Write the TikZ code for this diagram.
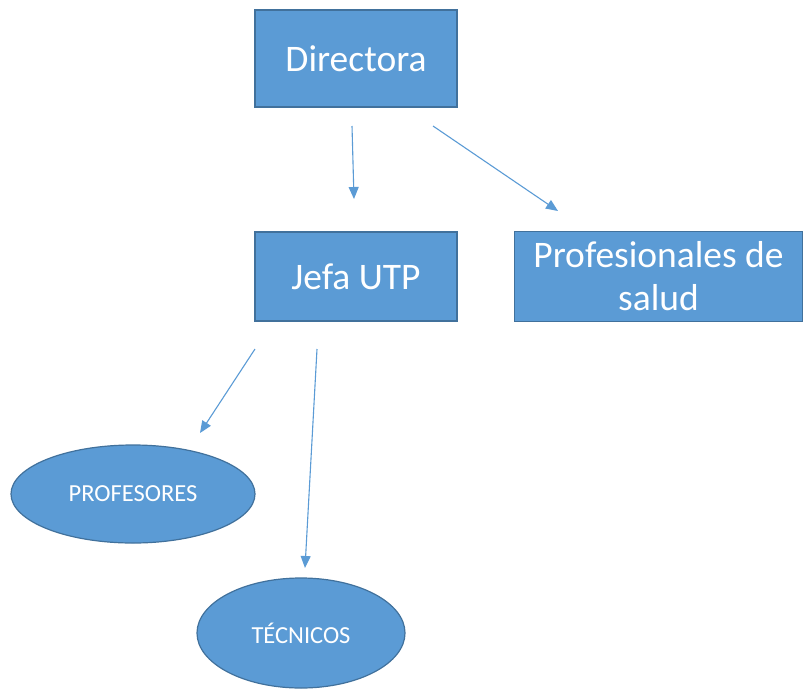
\documentclass[tikz,border=0pt]{standalone}
\usepackage{fontspec}
\setmainfont{Carlito}
\usetikzlibrary{arrows.meta,shapes.geometric}
\definecolor{boxfill}{HTML}{5B9BD5}
\definecolor{boxline}{HTML}{41719C}
\tikzset{
  orgbox/.style={draw=boxline, fill=boxfill, line width=1.5pt, text=white, inner sep=0pt, align=center,
    font=\fontsize{37.5}{43}\selectfont},
  orgell/.style={ellipse, draw=boxline, fill=boxfill, line width=1.2pt, text=white, inner sep=0pt,
    font=\fontsize{24.5}{28}\selectfont},
  link/.style={draw=boxfill, line width=1.1pt, -{Triangle[length=12pt,width=10pt]}}
}
\begin{document}
\begin{tikzpicture}[x=1pt,y=-1pt]
\useasboundingbox (0,0) rectangle (808,688);
\node[orgbox, minimum width=202pt, minimum height=97pt] (dir) at (356,58.5) {Directora};
\node[orgbox, minimum width=202pt, minimum height=89pt] (jefa) at (356,276.5) {Jefa UTP};
\node[orgbox, minimum width=288pt, minimum height=90pt] (prof) at (658.5,276.5) {Profesionales de\\salud};
\node[orgell, minimum width=244pt, minimum height=98pt] (profe) at (133,494) {PROFESORES};
\node[orgell, minimum width=208pt, minimum height=110pt] (tec) at (301,633) {TÉCNICOS};
\coordinate (a1s) at (352,126); \coordinate (a1e) at (354,199);
\coordinate (a2s) at (433,126); \coordinate (a2e) at (558,211);
\coordinate (a3s) at (255,349); \coordinate (a3e) at (200,433);
\coordinate (a4s) at (317,349); \coordinate (a4e) at (305,568);
\draw[link] (a1s) -- (a1e);
\draw[link] (a2s) -- (a2e);
\draw[link] (a3s) -- (a3e);
\draw[link] (a4s) -- (a4e);
\end{tikzpicture}
\end{document}
